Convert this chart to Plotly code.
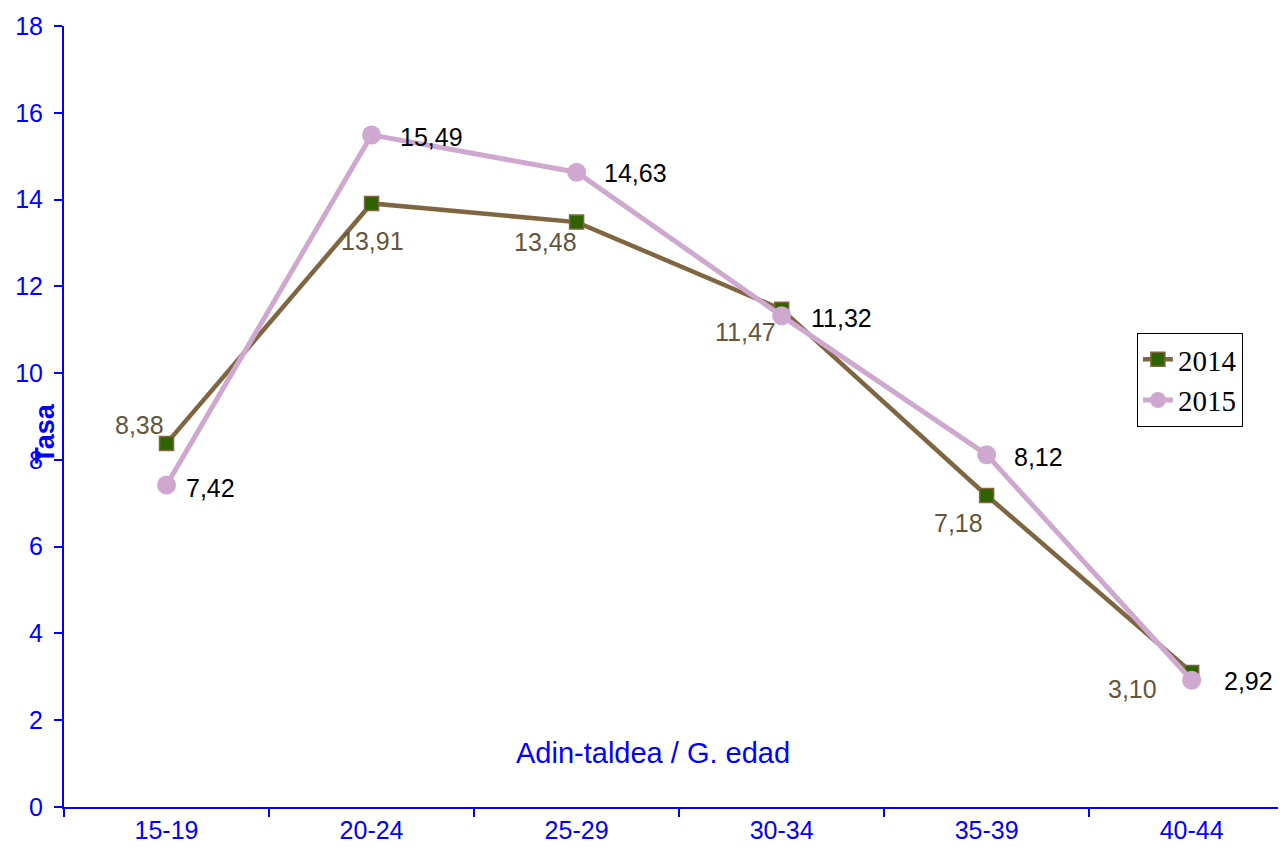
import plotly.graph_objects as go

categories = ["15-19", "20-24", "25-29", "30-34", "35-39", "40-44"]
values_2014 = [8.38, 13.91, 13.48, 11.47, 7.18, 3.10]
values_2015 = [7.42, 15.49, 14.63, 11.32, 8.12, 2.92]
y_ticks = [0, 2, 4, 6, 8, 10, 12, 14, 16, 18]

# label offsets (pixels) – styling only
off_2014 = [(-27, 18), (1, -38), (-31, -20), (-36, -23), (-28, -28), (-59, -17)]
off_2015 = [(44, -3), (60, -2), (59, -1), (60, -2), (52, -2), (57, -1)]

BLUE = "#0000ff"
C14 = "#806640"
C14_FILL = "#2e6400"
C14_TXT = "#65553a"
C15 = "#cfa8cf"
SANS = "Liberation Sans, Arial"

fmt = lambda v: f"{v:.2f}".replace(".", ",")

fig = go.Figure()
fig.add_trace(go.Scatter(
    x=categories, y=values_2014, name="2014", mode="lines+markers",
    line=dict(color=C14, width=4.5),
    marker=dict(symbol="square", size=14, color=C14_FILL, line=dict(color=C14, width=1.5)),
))
fig.add_trace(go.Scatter(
    x=categories, y=values_2015, name="2015", mode="lines+markers",
    line=dict(color=C15, width=5),
    marker=dict(symbol="circle", size=19, color=C15),
))

ann = []
for c, v, (dx, dy) in zip(categories, values_2014, off_2014):
    ann.append(dict(x=c, y=v, text=fmt(v), showarrow=False, xshift=dx, yshift=dy,
                    xanchor="center", yanchor="middle",
                    font=dict(family=SANS, size=25, color=C14_TXT)))
for c, v, (dx, dy) in zip(categories, values_2015, off_2015):
    ann.append(dict(x=c, y=v, text=fmt(v), showarrow=False, xshift=dx, yshift=dy,
                    xanchor="center", yanchor="middle",
                    font=dict(family=SANS, size=25, color="black")))
ann.append(dict(xref="paper", yref="paper", x=0.482, y=0.069, text="Adin-taldea / G. edad",
                xanchor="center", yanchor="middle",
                showarrow=False, font=dict(family=SANS, size=29, color=BLUE)))
ann.append(dict(xref="paper", yref="paper", x=-0.0155, y=0.478, text="<b>Tasa</b>", textangle=-90,
                xanchor="center", yanchor="middle",
                showarrow=False, font=dict(family=SANS, size=27, color=BLUE)))

fig.update_layout(
    width=1278, height=842,
    margin=dict(l=56, r=0, t=18, b=43, pad=0),
    paper_bgcolor="white", plot_bgcolor="white",
    showlegend=True,
    legend=dict(x=0.878, y=0.607, xanchor="left", yanchor="top",
                bordercolor="black", borderwidth=1, bgcolor="white",
                font=dict(family="Liberation Serif, Times New Roman", size=29, color="black"),
                tracegroupgap=0),
    annotations=ann,
)
fig.update_xaxes(
    type="category", range=[-0.5, 5.46], tickson="boundaries",
    showline=True, linecolor=BLUE, linewidth=2, showgrid=False, zeroline=False,
    ticks="outside", ticklen=8, tickcolor=BLUE, tickwidth=2,
    tickfont=dict(family=SANS, size=25, color=BLUE),
)
fig.update_yaxes(
    range=[0, 18], tickvals=y_ticks, ticktext=[str(t) for t in y_ticks],
    showline=True, linecolor=BLUE, linewidth=2, showgrid=False, zeroline=False,
    ticks="outside", ticklen=8, tickcolor=BLUE, tickwidth=2, ticklabelstandoff=6,
    tickfont=dict(family=SANS, size=25, color=BLUE),
)

fig.write_html("out.html")
